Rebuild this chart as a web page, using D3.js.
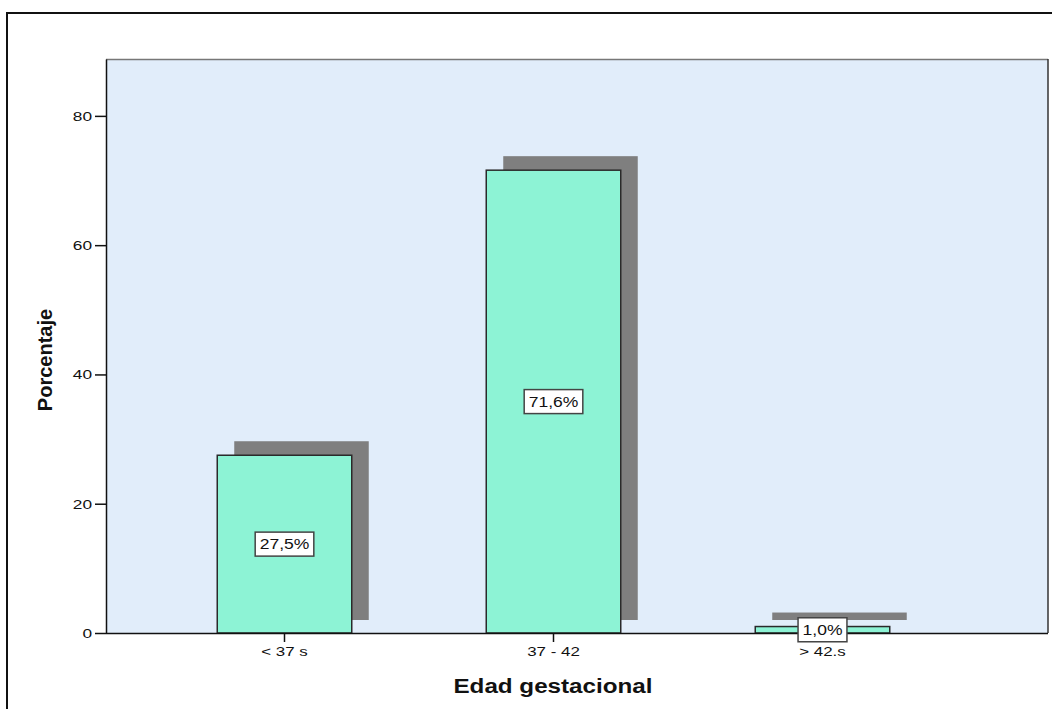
<!DOCTYPE html>
<html>
<head>
<meta charset="utf-8">
<script src="https://cdn.jsdelivr.net/npm/d3@7"></script>
<style>
  html, body { margin: 0; padding: 0; background: #fff; }
  svg { display: block; }
  text { font-family: "Liberation Sans", Arial, sans-serif; fill: #111; }
</style>
</head>
<body>
<svg id="chart" width="1052" height="709"></svg>
<script>
// Distribution by gestational age (percent)
const categories = ["< 37 s", "37 - 42", "> 42.s"];
const percentages = [27.5, 71.6, 1.0];
const valueLabels = ["27,5%", "71,6%", "1,0%"];
const yTicks = [0, 20, 40, 60, 80];

const W = 1052, H = 709;
const plot = { left: 106, top: 59, right: 1048, bottom: 633 };
const svg = d3.select("#chart");

// Horizontal stretch applied to text to get the wide SPSS-style lettering
function stretch(sel, k) {
  sel.each(function () {
    const len = this.getComputedTextLength();
    d3.select(this).attr("textLength", len * k).attr("lengthAdjust", "spacingAndGlyphs");
  });
}

// Outer frame
svg.append("rect")
  .attr("x", 7).attr("y", 13).attr("width", W + 20).attr("height", H + 20)
  .attr("fill", "#fff").attr("stroke", "#111").attr("stroke-width", 2);

// Scales
const x = d3.scaleBand().domain(categories).range([150, 957])
  .paddingInner(0.5).paddingOuter(0.25);
const y = d3.scaleLinear().domain([0, 88.8]).range([plot.bottom, plot.top]);

// Plot background
svg.append("rect")
  .attr("x", plot.left).attr("y", plot.top)
  .attr("width", plot.right - plot.left).attr("height", plot.bottom - plot.top)
  .attr("fill", "#E1EDFA").attr("stroke", "none");
// Frame edges: lighter top, darker right
svg.append("line").attr("x1", plot.left).attr("x2", plot.right)
  .attr("y1", plot.top + 0.5).attr("y2", plot.top + 0.5)
  .attr("stroke", "#777").attr("stroke-width", 1.5);
svg.append("line").attr("x1", plot.right).attr("x2", plot.right)
  .attr("y1", plot.top).attr("y2", plot.bottom)
  .attr("stroke", "#333").attr("stroke-width", 1.5);

const data = categories.map((c, i) => ({ cat: c, v: percentages[i], label: valueLabels[i] }));

// Drop shadows behind the bars
svg.append("g").selectAll("rect").data(data).join("rect")
  .attr("x", d => x(d.cat) + 17)
  .attr("y", d => y(d.v) - 14)
  .attr("width", x.bandwidth())
  .attr("height", d => y(0) - y(d.v) + 1)
  .attr("fill", "#7F7F7F");

// Bars
svg.append("g").selectAll("rect").data(data).join("rect")
  .attr("x", d => x(d.cat))
  .attr("y", d => y(d.v))
  .attr("width", x.bandwidth())
  .attr("height", d => y(0) - y(d.v))
  .attr("fill", "#8DF3D5")
  .attr("stroke", "#2a2a2a").attr("stroke-width", 1.5);

// Y axis
const yAxis = svg.append("g")
  .attr("transform", `translate(${plot.left},0)`)
  .call(d3.axisLeft(y).tickValues(yTicks).tickSize(11).tickSizeOuter(0).tickPadding(3));
yAxis.select(".domain").attr("stroke", "#111").attr("stroke-width", 1.5);
yAxis.selectAll(".tick line").attr("stroke", "#111").attr("stroke-width", 1.5);
yAxis.selectAll(".tick text").attr("font-size", 13.5)
  .attr("font-family", "Liberation Sans, Arial, sans-serif").attr("fill", "#111")
  .call(stretch, 1.28);

// X axis
const xAxis = svg.append("g")
  .attr("transform", `translate(0,${plot.bottom})`)
  .call(d3.axisBottom(x).tickSize(9).tickSizeOuter(0).tickPadding(5));
xAxis.select(".domain").attr("d", `M${plot.left},0.5H${plot.right}`)
  .attr("stroke", "#111").attr("stroke-width", 1.5);
xAxis.selectAll(".tick line").attr("stroke", "#111").attr("stroke-width", 1.5);
xAxis.selectAll(".tick text").attr("font-size", 13)
  .attr("font-family", "Liberation Sans, Arial, sans-serif").attr("fill", "#111")
  .call(stretch, 1.3);

// Value labels in boxes at bar mid-height
const lab = svg.append("g").selectAll("g").data(data).join("g")
  .attr("transform", d => `translate(${x(d.cat) + x.bandwidth() / 2},${y(d.v / 2)})`);
lab.append("text")
  .attr("text-anchor", "middle").attr("dy", "0.36em")
  .attr("font-size", 14)
  .text(d => d.label)
  .call(stretch, 1.25);
lab.insert("rect", "text")
  .each(function () {
    const t = d3.select(this.parentNode).select("text").node();
    const w = +t.getAttribute("textLength") + 9;
    d3.select(this).attr("x", -w / 2).attr("y", -12).attr("width", w).attr("height", 24);
  })
  .attr("fill", "#fff").attr("stroke", "#444").attr("stroke-width", 1.5);

// Axis titles
svg.append("text")
  .attr("transform", `translate(52,${(plot.top + plot.bottom) / 2 + 14}) rotate(-90)`)
  .attr("text-anchor", "middle")
  .attr("font-size", 20).attr("font-weight", "bold")
  .text("Porcentaje");

svg.append("text")
  .attr("x", 553).attr("y", 693)
  .attr("text-anchor", "middle")
  .attr("font-size", 20).attr("font-weight", "bold")
  .text("Edad gestacional")
  .call(stretch, 1.21);
</script>
</body>
</html>
